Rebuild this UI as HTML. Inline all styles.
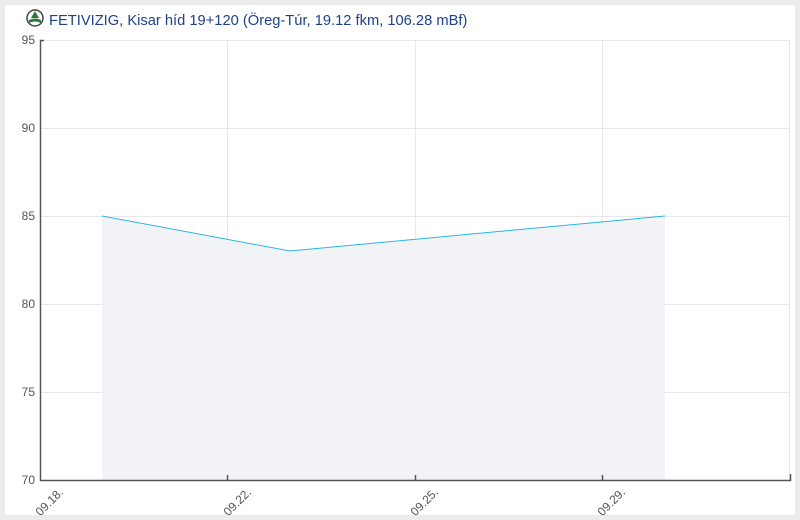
<!DOCTYPE html>
<html><head><style>
body{margin:0;background:#ececec;width:800px;height:520px;overflow:hidden;font-family:"Liberation Sans",sans-serif}
</style></head><body>
<svg width="800" height="520" xmlns="http://www.w3.org/2000/svg" style="position:absolute;left:0;top:0">
<rect x="5" y="5" width="790" height="510" fill="#fff"/>
<circle cx="35" cy="18" r="8" fill="#fff" stroke="#444" stroke-width="1.5"/>
<path d="M29 20 Q35 17 41 20 L41 23 Q35 20 29 23Z" fill="#2a7a3a"/>
<path d="M35 11 L31 18 L39 18Z" fill="#2a7a3a"/>
<text x="49" y="25" font-size="14.7" fill="#1f3f8f">FETIVIZIG, Kisar híd 19+120 (Öreg-Túr, 19.12 fkm, 106.28 mBf)</text>
<g stroke="#e8e8e8" stroke-width="1">
<line x1="40" y1="40.5" x2="790" y2="40.5"/>
<line x1="40" y1="128.5" x2="790" y2="128.5"/>
<line x1="40" y1="216.5" x2="790" y2="216.5"/>
<line x1="40" y1="304.5" x2="790" y2="304.5"/>
<line x1="40" y1="392.5" x2="790" y2="392.5"/>
<line x1="227.5" y1="40" x2="227.5" y2="480"/>
<line x1="415.5" y1="40" x2="415.5" y2="480"/>
<line x1="602.5" y1="40" x2="602.5" y2="480"/>
<line x1="789.5" y1="40" x2="789.5" y2="480"/>
</g>
<path d="M102 216 L290 251 L665 216 L665 480 L102 480Z" fill="#f2f3f7"/>
<polyline points="102,216 290,251 665,216" fill="none" stroke="#29b6e8" stroke-width="1"/>
<g stroke="#555" stroke-width="1.5" fill="none">
<path d="M44 40.5 H40.5 V480.5 H790.5 V474"/>
<line x1="227.5" y1="480" x2="227.5" y2="475"/>
<line x1="415.5" y1="480" x2="415.5" y2="475"/>
<line x1="602.5" y1="480" x2="602.5" y2="475"/>
</g>
<g font-size="12" fill="#555" text-anchor="end">
<text x="35" y="44">95</text>
<text x="35" y="132">90</text>
<text x="35" y="220">85</text>
<text x="35" y="308">80</text>
<text x="35" y="396">75</text>
<text x="35" y="484">70</text>
</g>
<g font-size="12" fill="#555" text-anchor="end">
<text transform="translate(64,493) rotate(-45)">09.18.</text>
<text transform="translate(252,493) rotate(-45)">09.22.</text>
<text transform="translate(439,493) rotate(-45)">09.25.</text>
<text transform="translate(626,493) rotate(-45)">09.29.</text>
</g>
</svg>
</body></html>
